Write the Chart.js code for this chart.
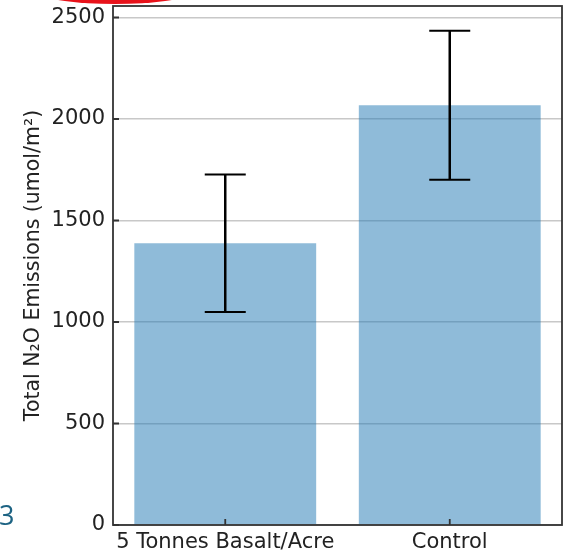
<!DOCTYPE html>
<html>
<head>
<meta charset="utf-8">
<script src="https://cdn.jsdelivr.net/npm/chart.js@4"></script>
<style>
  body { margin: 0; background: #fff; }
  #wrap { position: relative; width: 567px; height: 551px; overflow: hidden; }
  #slideNum { position: absolute; left: -1px; top: 496px; font: 27px "Open Sans", sans-serif; color: #1d6383; }
  #redMark { position: absolute; left: 44px; top: -16px; width: 142px; height: 20px; border-radius: 50%; background: #e8121a; }
</style>
</head>
<body>
<div id="wrap">
  <canvas id="n2oChart" width="567" height="551"></canvas>
  <div id="redMark"></div>
  <div id="slideNum">3</div>
</div>
<script>
const categories = ['5 Tonnes Basalt/Acre', 'Control'];
const meanEmissions = [1388, 2068];
const errorSize = [339, 367];
const yTickStep = 500;

const barColor = 'rgba(31,119,180,0.5)';
const tickFont = { family: 'DejaVu Sans', size: 21 };
const titleFont = { family: 'DejaVu Sans', size: 20.5 };

// top of axis like matplotlib autoscale (5% margin above tallest error bar)
const yMax = Math.max(...meanEmissions.map((v, i) => v + errorSize[i])) * 1.05;

// error bars, frame and inward ticks
const extras = {
  id: 'extras',
  afterDatasetsDraw(chart) {
    const { ctx, chartArea, scales } = chart;
    const x = scales.x, y = scales.y;
    ctx.save();
    ctx.strokeStyle = '#000';
    meanEmissions.forEach((v, i) => {
      const cx = x.getPixelForValue(i);
      const top = y.getPixelForValue(v + errorSize[i]);
      const bot = y.getPixelForValue(v - errorSize[i]);
      ctx.lineWidth = 2.5;
      ctx.beginPath();
      ctx.moveTo(cx, top);
      ctx.lineTo(cx, bot);
      ctx.stroke();
      ctx.lineWidth = 2;
      ctx.beginPath();
      ctx.moveTo(cx - 20.5, top);
      ctx.lineTo(cx + 20.5, top);
      ctx.moveTo(cx - 20.5, bot);
      ctx.lineTo(cx + 20.5, bot);
      ctx.stroke();
    });

    ctx.strokeStyle = '#333';
    ctx.lineWidth = 1.8;
    ctx.beginPath();
    y.ticks.forEach((t, i) => {
      const py = y.getPixelForTick(i);
      ctx.moveTo(chartArea.left, py);
      ctx.lineTo(chartArea.left + 6, py);
    });
    x.ticks.forEach((t, i) => {
      const px = x.getPixelForTick(i);
      ctx.moveTo(px, chartArea.bottom);
      ctx.lineTo(px, chartArea.bottom - 6);
    });
    ctx.stroke();
    ctx.strokeRect(chartArea.left, chartArea.top, chartArea.right - chartArea.left, chartArea.bottom - chartArea.top);
    ctx.restore();
  }
};

new Chart(document.getElementById('n2oChart'), {
  type: 'bar',
  data: {
    labels: categories,
    datasets: [{
      data: meanEmissions,
      backgroundColor: barColor,
      borderWidth: 0,
      barPercentage: 0.9,
      categoryPercentage: 0.9
    }]
  },
  options: {
    responsive: false,
    animation: false,
    layout: { padding: { top: 6, right: 5, left: 0, bottom: 0 } },
    plugins: { legend: { display: false }, tooltip: { enabled: false } },
    scales: {
      x: {
        grid: { display: false, drawTicks: false },
        border: { display: false },
        ticks: { color: '#222', font: tickFont, padding: 5, maxRotation: 0 },
        afterFit(s) { s.height = 26; }
      },
      y: {
        min: 0,
        max: yMax,
        grid: { color: '#c8c8c8', lineWidth: 1.5, drawTicks: false },
        border: { display: false },
        ticks: {
          color: '#222',
          font: tickFont,
          padding: 8,
          callback: (v) => String(v)
        },
        afterBuildTicks(s) {
          const t = [];
          for (let v = 0; v <= s.max; v += yTickStep) t.push({ value: v });
          s.ticks = t;
        },
        title: {
          display: true,
          text: 'Total N₂O Emissions (umol/m²)',
          color: '#222',
          font: titleFont,
          padding: { top: 21, bottom: 0 }
        },
        afterFit(s) {
          s.width = 113;
          s.paddingTop = 0;
          s.paddingBottom = 0;
        }
      }
    }
  },
  plugins: [extras]
});
</script>
</body>
</html>
